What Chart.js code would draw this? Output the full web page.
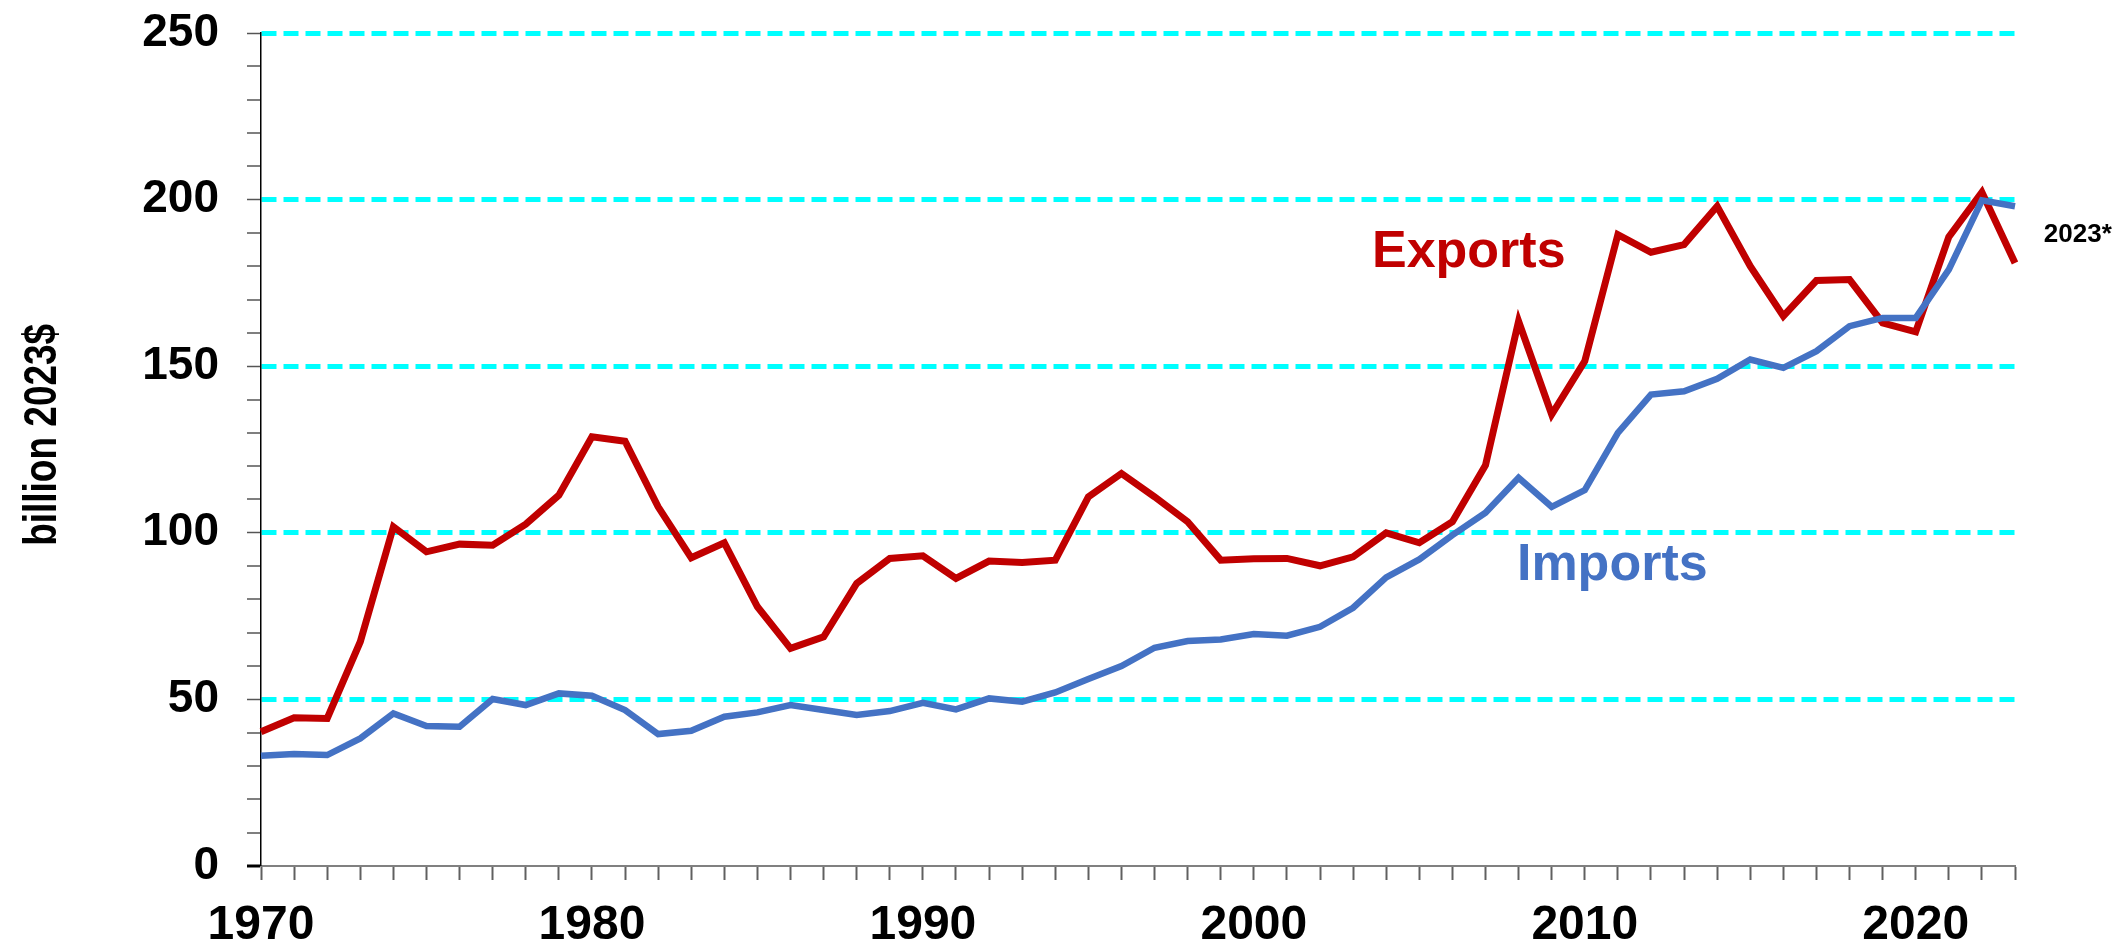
<!DOCTYPE html>
<html>
<head>
<meta charset="utf-8">
<script src="https://cdn.jsdelivr.net/npm/chart.js@4"></script>
<style>
  html, body { margin: 0; padding: 0; background: #fff; }
  #wrap { width: 2114px; height: 947px; position: relative; }
</style>
</head>
<body>
<div id="wrap"><canvas id="myChart"></canvas></div>
<script>
var years = ['1970','1971','1972','1973','1974','1975','1976','1977','1978','1979',
             '1980','1981','1982','1983','1984','1985','1986','1987','1988','1989',
             '1990','1991','1992','1993','1994','1995','1996','1997','1998','1999',
             '2000','2001','2002','2003','2004','2005','2006','2007','2008','2009',
             '2010','2011','2012','2013','2014','2015','2016','2017','2018','2019',
             '2020','2021','2022','2023'];

var exportsData = [40.3, 44.5, 44.3, 67.3, 101.8, 94.3, 96.6, 96.3, 102.6, 111.3,
                   128.8, 127.5, 107.8, 92.5, 97.0, 77.8, 65.3, 68.8, 84.8, 92.3,
                   93.1, 86.3, 91.5, 91.1, 91.8, 110.8, 117.8, 110.8, 103.3, 91.8,
                   92.2, 92.3, 90.1, 92.8, 100.0, 97.0, 103.3, 120.3, 163.5, 135.5,
                   151.5, 189.5, 184.2, 186.5, 198.0, 180.0, 165.0, 175.7, 176.0, 163.0,
                   160.3, 188.8, 202.2, 181.0];

var importsData = [33.1, 33.6, 33.3, 38.3, 45.8, 42.0, 41.8, 50.1, 48.3, 51.8,
                   51.1, 46.8, 39.6, 40.6, 44.8, 46.1, 48.3, 46.8, 45.3, 46.5,
                   49.0, 47.0, 50.3, 49.3, 52.1, 56.1, 60.0, 65.5, 67.5, 68.0,
                   69.6, 69.1, 71.8, 77.5, 86.6, 92.0, 99.3, 106.0, 116.5, 107.8,
                   112.8, 130.0, 141.5, 142.5, 146.2, 152.0, 149.5, 154.5, 162.0, 164.5,
                   164.5, 179.0, 199.8, 198.0];

var xTickLabels = ['1970', '1980', '1990', '2000', '2010', '2020'];
var yTickLabels = [0, 50, 100, 150, 200, 250];
var yTitle = 'billion 2023$';

var RED = '#C00000';
var BLUE = '#4472C4';
var CYAN = '#00FFFF';
var FONT = "'Liberation Sans', Arial, sans-serif";

// text labels placed in data coordinates (category index, value)
var notes = [
  { text: 'Exports', x: 33.57, y: 179.8, color: RED, size: 52 },
  { text: 'Imports', x: 37.95, y: 85.8, color: BLUE, size: 52 },
  { text: '2023*', x: 53.87, y: 187.3, color: '#000', size: 26 }
];

var notesPlugin = {
  id: 'notes',
  afterDatasetsDraw: function(chart) {
    var ctx = chart.ctx;
    var xs = chart.scales.x, ys = chart.scales.y;
    ctx.save();
    ctx.textAlign = 'left';
    ctx.textBaseline = 'alphabetic';
    notes.forEach(function(n) {
      ctx.font = 'bold ' + n.size + 'px ' + FONT;
      ctx.fillStyle = n.color;
      ctx.fillText(n.text, xs.getPixelForValue(n.x), ys.getPixelForValue(n.y));
    });
    ctx.restore();

    // y axis title, condensed like the original
    ctx.save();
    ctx.font = 'bold 46px ' + FONT;
    var w = ctx.measureText(yTitle).width;
    ctx.translate(56, ys.getPixelForValue(129.4));
    ctx.rotate(-Math.PI / 2);
    ctx.scale(222 / w, 1);
    ctx.textAlign = 'center';
    ctx.textBaseline = 'alphabetic';
    ctx.fillStyle = '#000';
    ctx.fillText(yTitle, 0, 0);
    ctx.restore();
  }
};

var ctx = document.getElementById('myChart').getContext('2d');
var myChart = new Chart(ctx, {
  type: 'line',
  data: {
    labels: years,
    datasets: [{
      label: 'Exports',
      data: exportsData,
      borderColor: RED,
      borderWidth: 7,
      pointRadius: 0,
      tension: 0,
      fill: false,
      order: 1
    },
    {
      label: 'Imports',
      data: importsData,
      borderColor: BLUE,
      borderWidth: 6.5,
      pointRadius: 0,
      tension: 0,
      fill: false,
      order: 0
    }]
  },
  options: {
    responsive: true,
    maintainAspectRatio: false,
    animation: false,
    layout: {
      padding: { left: 0, right: 99, top: 33, bottom: 0 }
    },
    plugins: {
      legend: { display: false },
      tooltip: { enabled: false }
    },
    scales: {
      x: {
        offset: false,
        afterFit: function(scale) { scale.height = 81; },
        grid: {
          drawOnChartArea: false,
          tickLength: 14,
          tickColor: '#606060',
          tickWidth: 2
        },
        border: { color: '#808080', width: 2 },
        ticks: {
          autoSkip: false,
          maxRotation: 0,
          padding: 17,
          color: '#000',
          font: { family: FONT, size: 48, weight: 'bold' },
          callback: function(value) {
            var lab = this.getLabelForValue(value);
            return xTickLabels.indexOf(lab) >= 0 ? lab : '';
          }
        }
      },
      y: {
        min: 0,
        max: 250,
        afterFit: function(scale) {
          scale.width = 261;
          scale.paddingTop = 0;
          scale.paddingBottom = 0;
        },
        grid: {
          color: function(c) {
            return c.tick && c.tick.value > 0 && c.tick.value % 50 === 0 ? CYAN : 'rgba(0,0,0,0)';
          },
          lineWidth: function(c) {
            return c.tick && c.tick.value > 0 && c.tick.value % 50 === 0 ? 5 : 0;
          },
          tickLength: 14,
          tickColor: function(c) { return c.tick && c.tick.value === 0 ? '#000' : '#555'; },
          tickWidth: function(c) { return c.tick && c.tick.value === 0 ? 3 : 1.5; }
        },
        border: { color: '#000', width: 1.5, dash: [15, 7] },
        ticks: {
          stepSize: 10,
          autoSkip: false,
          padding: 28,
          color: '#000',
          font: { family: FONT, size: 46, weight: 'bold' },
          callback: function(value) {
            return yTickLabels.indexOf(value) >= 0 ? value : '';
          }
        }
      }
    }
  },
  plugins: [notesPlugin]
});
</script>
</body>
</html>
